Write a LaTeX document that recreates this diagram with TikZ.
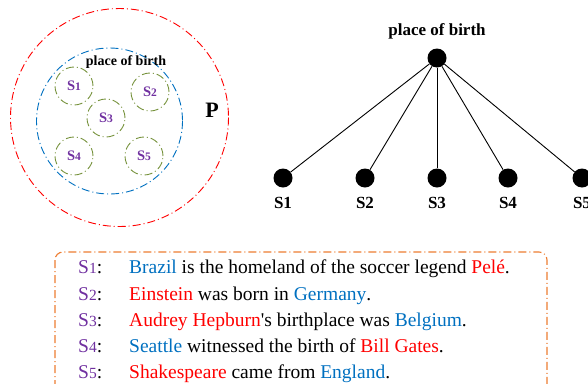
\documentclass[tikz,border=0pt]{standalone}
\usepackage{fontspec}
\setmainfont{Liberation Serif}
\usetikzlibrary{positioning}
\definecolor{pobred}{RGB}{255,0,0}
\definecolor{pobblue}{RGB}{0,112,192}
\definecolor{pobpurple}{RGB}{112,48,160}
\definecolor{pobgreen}{RGB}{118,146,60}
\definecolor{poborange}{RGB}{237,125,49}
\tikzset{
  dashdot/.style={dash pattern=on 8pt off 3pt on 1pt off 3pt},
  entity/.style={circle,fill=black,inner sep=0pt,minimum size=19pt},
  sent/.style={circle,draw=pobgreen,dashdot,line width=0.9pt,minimum size=38pt,inner sep=0pt,
               text=pobpurple,font=\fontsize{14.5}{14.5}\selectfont\bfseries},
  leaflab/.style={font=\fontsize{17}{17}\selectfont\bfseries},
  line/.style={anchor=base west,inner sep=0pt,font=\fontsize{19.5}{19.5}\selectfont}
}
\newcommand{\sn}[1]{S{\fontsize{11.5}{11.5}\selectfont #1}}
\newcommand{\sm}[1]{\textcolor{pobpurple}{S{\fontsize{15.5}{15.5}\selectfont #1}}:}
\newcommand{\bl}[1]{\textcolor{pobblue}{#1}}
\newcommand{\rd}[1]{\textcolor{pobred}{#1}}
\begin{document}
\begin{tikzpicture}[x=1pt,y=-1pt]
\useasboundingbox (0,0) rectangle (588,383);
% left: sets
\draw[pobred,dashdot,line width=0.9pt] (119.5,117.5) circle (109); %P
\draw[pobblue,dashdot,line width=0.9pt] (109.5,121) circle (73); %relation
\node[font=\fontsize{14}{14}\selectfont\bfseries] (rel) at (126,62) {place of birth};
\node[font=\fontsize{22}{22}\selectfont\bfseries] (P) at (212,110) {P};
\node[sent] (c1) at (74,86) {\sn{1}};
\node[sent] (c2) at (150,92) {\sn{2}};
\node[sent] (c3) at (106,118) {\sn{3}};
\node[sent] (c4) at (74,156) {\sn{4}};
\node[sent] (c5) at (144,156) {\sn{5}};
% right: tree
\node[entity] (root) at (437,58) {};
\node[above=6pt of root,leaflab] (rootlab) {place of birth};
\foreach \i/\x in {1/283,2/365,3/437,4/508,5/582}{
  \node[entity] (e\i) at (\x,178) {};
  \node[below=6pt of e\i,leaflab] (l\i) {S\i};
  \draw[line width=0.9pt] (root) -- (e\i);
}
% bottom: sentences
\draw[poborange,dashdot,line width=1.1pt,rounded corners=8pt] (55,252) rectangle (547,395);
\node[line] (s1) at (78,273) {\sm{1}};
\node[line] (t1) at (129,273) {\bl{Brazil} is the homeland of the soccer legend \rd{Pelé}.};
\node[line] (s2) at (78,300) {\sm{2}};
\node[line] (t2) at (129,300) {\rd{Einstein} was born in \bl{Germany}.};
\node[line] (s3) at (78,326) {\sm{3}};
\node[line] (t3) at (129,326) {\rd{Audrey Hepburn}\textquotesingle s birthplace was \bl{Belgium}.};
\node[line] (s4) at (78,352) {\sm{4}};
\node[line] (t4) at (129,352) {\bl{Seattle} witnessed the birth of \rd{Bill Gates}.};
\node[line] (s5) at (78,378) {\sm{5}};
\node[line] (t5) at (129,378) {\rd{Shakespeare} came from \bl{England}.};
\end{tikzpicture}
\end{document}
